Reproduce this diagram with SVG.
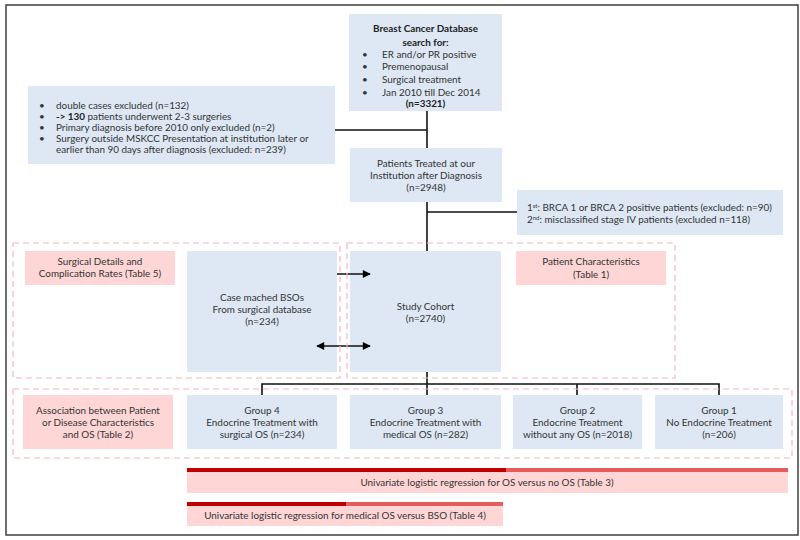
<svg xmlns="http://www.w3.org/2000/svg" width="800" height="540" viewBox="0 0 800 540">
<defs>
<style>
.blue{fill:#dde8f4}
.pink{fill:#ffd6d6}
.cont{fill:none;stroke:#f4b6be;stroke-width:1.2;stroke-dasharray:6 4}
.ln{stroke:#111;stroke-width:1.6;fill:none}
text{font-family:Lato,"Open Sans","Liberation Sans",sans-serif;font-size:9.9px;fill:#333}
.c{text-anchor:middle}
.b{font-weight:bold;fill:#222}
.dark{fill:#c00000}
.light{fill:#e65b5b}
</style>
<marker id="ah" viewBox="0 0 10 10" refX="9" refY="5" markerWidth="10" markerHeight="8" markerUnits="userSpaceOnUse" orient="auto-start-reverse">
<path d="M0,0 L10,5 L0,10 z" fill="#000"/>
</marker>
</defs>
<rect width="800" height="540" fill="#fff"/>
<rect x="6" y="5" width="792" height="530" fill="none" stroke="#4a4a4a" stroke-width="1.6"/>

<g id="database">
<rect class="blue" x="349" y="14" width="153" height="97"/>
<text class="c b" x="425.5" y="32">Breast Cancer Database</text>
<text class="c b" x="425.5" y="46">search for:</text>
<text x="362" y="58">•</text><text x="382" y="58">ER and/or PR positive</text>
<text x="362" y="70">•</text><text x="382" y="70">Premenopausal</text>
<text x="362" y="83">•</text><text x="382" y="83">Surgical treatment</text>
<text x="362" y="96">•</text><text x="382" y="96">Jan 2010 till Dec 2014</text>
<text class="c b" x="425.5" y="107">(n=3321)</text>
</g>

<g id="exclusion1">
<rect class="blue" x="28" y="86" width="307" height="78"/>
<text x="39" y="109">•</text><text x="56" y="109">double cases excluded (n=132)</text>
<text x="39" y="120">•</text><text x="56" y="120"><tspan class="b">-&gt; 130</tspan> patients underwent 2-3 surgeries</text>
<text x="39" y="131">•</text><text x="56" y="131">Primary diagnosis before 2010 only excluded (n=2)</text>
<text x="39" y="142">•</text><text x="56" y="142">Surgery outside MSKCC Presentation at institution later or</text>
<text x="56" y="153">earlier than 90 days after diagnosis (excluded: n=239)</text>
</g>

<g id="treated">
<rect class="blue" x="350" y="148" width="152" height="54"/>
<text class="c" x="426" y="167">Patients Treated at our</text>
<text class="c" x="426" y="179">Institution after Diagnosis</text>
<text class="c" x="426" y="191">(n=2948)</text>
</g>

<g id="exclusion2">
<rect class="blue" x="517" y="190" width="266" height="45"/>
<text x="527" y="211">1<tspan font-size="6" dy="-3">st</tspan><tspan dy="3">: BRCA 1 or BRCA 2 positive patients (excluded: n=90)</tspan></text>
<text x="527" y="223">2<tspan font-size="6" dy="-3">nd</tspan><tspan dy="3">: misclassified stage IV patients (excluded n=118)</tspan></text>
</g>

<g id="surgical-details">
<rect class="pink" x="25" y="251" width="150" height="34"/>
<text class="c" x="100" y="265">Surgical Details and</text>
<text class="c" x="100" y="277">Complication Rates (Table 5)</text>
</g>

<g id="bso">
<rect class="blue" x="187" y="251" width="150" height="121"/>
<text class="c" x="262" y="301">Case mached BSOs</text>
<text class="c" x="262" y="313">From surgical database</text>
<text class="c" x="262" y="325">(n=234)</text>
</g>

<g id="cohort">
<rect class="blue" x="350" y="251" width="151" height="121"/>
<text class="c" x="425.5" y="310">Study Cohort</text>
<text class="c" x="425.5" y="322">(n=2740)</text>
</g>

<g id="patient-char">
<rect class="pink" x="516" y="251" width="150" height="34"/>
<text class="c" x="591" y="265">Patient Characteristics</text>
<text class="c" x="591" y="278">(Table 1)</text>
</g>

<g id="association">
<rect class="pink" x="23" y="395" width="150" height="54"/>
<text class="c" x="98" y="414">Association between Patient</text>
<text class="c" x="98" y="426">or Disease Characteristics</text>
<text class="c" x="98" y="438">and OS (Table 2)</text>
</g>

<g id="group4">
<rect class="blue" x="187" y="395" width="150" height="54"/>
<text class="c" x="262" y="414">Group 4</text>
<text class="c" x="262" y="426">Endocrine Treatment with</text>
<text class="c" x="262" y="438">surgical OS (n=234)</text>
</g>

<g id="group3">
<rect class="blue" x="350" y="395" width="151" height="54"/>
<text class="c" x="425.5" y="414">Group 3</text>
<text class="c" x="425.5" y="426">Endocrine Treatment with</text>
<text class="c" x="425.5" y="438">medical OS (n=282)</text>
</g>

<g id="group2">
<rect class="blue" x="513" y="395" width="129" height="54"/>
<text class="c" x="577.5" y="414">Group 2</text>
<text class="c" x="577.5" y="426">Endocrine Treatment</text>
<text class="c" x="577.5" y="438">without any OS (n=2018)</text>
</g>

<g id="group1">
<rect class="blue" x="655" y="395" width="128" height="54"/>
<text class="c" x="719" y="414">Group 1</text>
<text class="c" x="719" y="426">No Endocrine Treatment</text>
<text class="c" x="719" y="438">(n=206)</text>
</g>

<g id="regression1">
<rect class="pink" x="187" y="468" width="601" height="25"/>
<rect class="dark" x="187" y="468" width="319" height="4"/>
<rect class="light" x="506" y="468" width="282" height="4"/>
<text class="c" x="487" y="486">Univariate logistic regression for OS versus no OS (Table 3)</text>
</g>

<g id="regression2">
<rect class="pink" x="187" y="502" width="316" height="24"/>
<rect class="dark" x="187" y="502" width="159" height="4"/>
<rect class="light" x="346" y="502" width="157" height="4"/>
<text class="c" x="345" y="519">Univariate logistic regression for medical OS versus BSO (Table 4)</text>
</g>

<g id="connectors">
<line class="ln" x1="427" y1="111" x2="427" y2="148"/>
<line class="ln" x1="335" y1="130" x2="427" y2="130"/>
<line class="ln" x1="427" y1="202" x2="427" y2="251"/>
<line class="ln" x1="427" y1="212" x2="517" y2="212"/>
<line class="ln" x1="337" y1="274" x2="370" y2="274" marker-end="url(#ah)"/>
<line class="ln" x1="317" y1="346" x2="370" y2="346" marker-start="url(#ah)" marker-end="url(#ah)"/>
<line class="ln" x1="427" y1="372" x2="427" y2="395"/>
<polyline class="ln" points="262,395 262,384 719,384 719,395"/>
<line class="ln" x1="577" y1="384" x2="577" y2="395"/>
</g>

<g id="containers">
<rect class="cont" x="13" y="243" width="327" height="135"/>
<rect class="cont" x="347" y="243" width="328" height="135"/>
<rect class="cont" x="13" y="389" width="779" height="69"/>
</g>
</svg>
